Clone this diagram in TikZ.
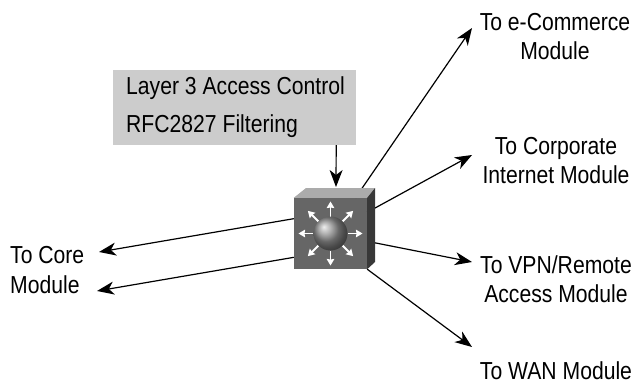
\documentclass[tikz,border=0pt]{standalone}
\usepackage{fontspec}
\setmainfont[FakeStretch=0.86]{Liberation Sans}
\usetikzlibrary{arrows.meta,calc}
\definecolor{boxgray}{HTML}{CCCCCC}
\definecolor{frontgray}{HTML}{666666}
\definecolor{sidegray}{HTML}{383838}
\definecolor{topgray}{HTML}{ABABAB}
\tikzstyle{lbl} =[
    font=\fontsize{24.6}{29}\selectfont,
    align=center,
    inner sep=0pt
    ]
\tikzstyle{link} =[
    black,
    line width=1.2pt,
    -{Stealth[length=17pt,width=13pt,inset=5pt]}
    ]
\tikzstyle{ray} =[
    white,
    line width=1.9pt,
    -{Stealth[length=6.5pt,width=7.5pt,inset=0.5pt]}
    ]
\begin{document}
\begin{tikzpicture}[x=1pt,y=-1pt]
\useasboundingbox (0,0) rectangle (637,385);
% filter box
\node [fill=boxgray, minimum width=243pt, minimum height=75pt, inner sep=0pt] (filter) at (234.5,107.5) {};
\node [lbl, anchor=west] (layer) at (126,88) {Layer 3 Access Control};
\node [lbl, anchor=west] (rfc) at (126,126) {RFC2827 Filtering};
% labels
\node [lbl] (ecom) at (555,36.5) {To e-Commerce\\Module};
\node [lbl] (corp) at (556,160.5) {To Corporate\\Internet Module};
\node [lbl] (vpn) at (556,279.5) {To VPN/Remote\\Access Module};
\node [lbl] (wan) at (556,371) {To WAN Module};
\node [lbl, anchor=west] (core) at (10,255) {To Core};
\node [lbl, anchor=west] (mod) at (10,285) {Module};
% switch
\node [fill=frontgray, minimum width=73pt, minimum height=71pt, inner sep=0pt] (switch) at (330.5,233.5) {};
\coordinate (ecomtip) at (472,28);
\coordinate (corptip) at (472,155);
\coordinate (vpntip) at (472,262);
\coordinate (wantip) at (472,347);
\coordinate (coretip) at (99,252);
\coordinate (modtip) at (97,291);
\coordinate (swtop) at (336,187);
\draw [link] (switch.55.7) -- (ecomtip);
\draw [link] (switch.30) -- (corptip);
\draw [link] (switch.-12.2) -- (vpntip);
\draw [link] (switch.south east) -- (wantip);
\draw [link] (switch.158) -- (coretip);
\draw [link] (switch.213.9) -- (modtip);
\draw [link] ([xshift=-20pt]filter.south east) -- (swtop);
\fill [topgray] (switch.north west) -- (306,188) -- (375,188) -- (switch.north east) -- cycle;
\fill [sidegray] (switch.north east) -- (375,188) -- (375,262) -- (switch.south east) -- cycle;
% rays
\foreach \a in {0,45,...,315}
    \draw [ray] ($(switch.center)+(\a:17pt)$) -- ($(switch.center)+(\a:32pt)$);
\node [circle, ball color=gray!85!white, minimum size=34pt, inner sep=0pt] (ball) at (switch.center) {};
\end{tikzpicture}
\end{document}
